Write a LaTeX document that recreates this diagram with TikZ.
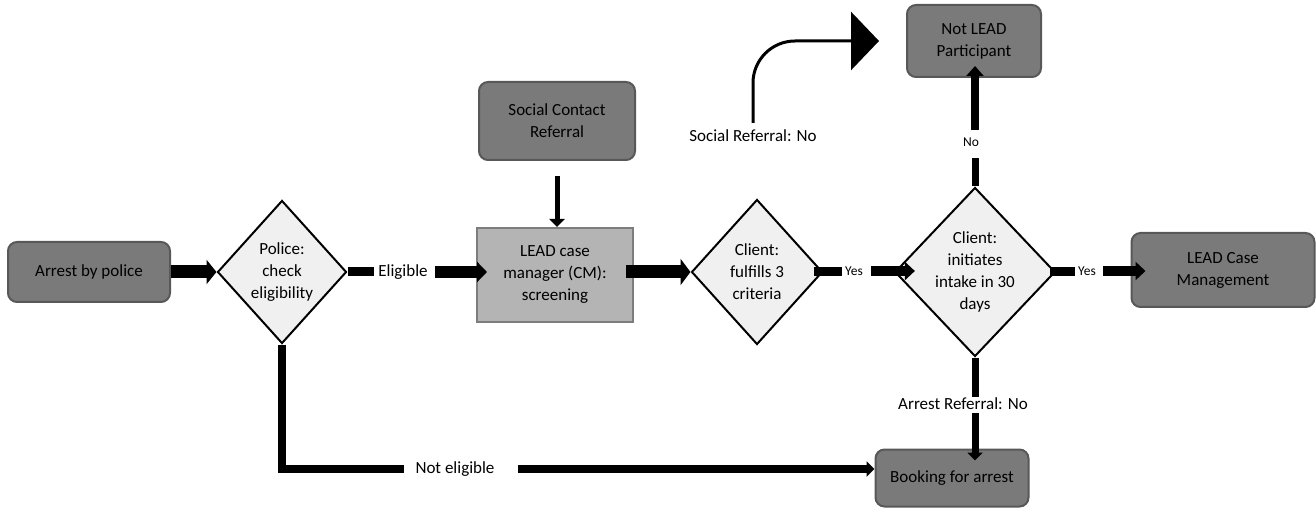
\documentclass[tikz,border=0pt]{standalone}
\usepackage{fontspec}
\setmainfont{Carlito}
\usetikzlibrary{shapes.geometric,arrows.meta}

\definecolor{boxdark}{RGB}{122,122,122}
\definecolor{boxedge}{RGB}{88,88,88}
\definecolor{boxmid}{RGB}{180,180,180}
\definecolor{boxmidedge}{RGB}{125,125,125}
\definecolor{diafill}{RGB}{240,240,240}

\begin{document}
\begin{tikzpicture}[x=1pt,y=-1pt,
	darkbox/.style={draw=boxedge,fill=boxdark,line width=2pt,rounded corners=9pt,align=center,inner sep=0pt,font=\fontsize{17}{22}\selectfont},
	midbox/.style={draw=boxmidedge,fill=boxmid,line width=2pt,align=center,inner sep=0pt,font=\fontsize{17}{22}\selectfont},
	decide/.style={diamond,draw,fill=diafill,line width=2pt,align=center,inner sep=0pt,font=\fontsize{17}{22}\selectfont},
	lab/.style={inner sep=1pt,font=\fontsize{17}{20}\selectfont},
	smalllab/.style={inner sep=1pt,font=\fontsize{13.5}{16}\selectfont},
	bar/.style={line width=8pt,line join=miter},
	fat/.style={line width=13pt,-{Triangle[width=24pt,length=10pt]}},
	mid/.style={line width=10pt,-{Triangle[width=18pt,length=10pt]}},
	slim/.style={line width=7pt,-{Triangle[width=15pt,length=8pt]}}]
	
	\useasboundingbox (0,0) rectangle (1316,510);
	
	%boxes
	\node[darkbox,minimum width=162pt,minimum height=60pt] (arrest) at (89,272) {Arrest by police};
	\node[darkbox,minimum width=156pt,minimum height=78pt] (social) at (557,121) {Social Contact\\Referral};
	\node[midbox,minimum width=156pt,minimum height=94pt] (cm) at (555,275) {LEAD case\\manager (CM):\\screening};
	\node[darkbox,minimum width=134pt,minimum height=72pt] (notlead) at (974,41) {Not LEAD\\Participant};
	\node[darkbox,minimum width=183pt,minimum height=74pt] (casemgmt) at (1223,270) {LEAD Case\\Management};
	\node[darkbox,minimum width=153pt,minimum height=57pt] (booking) at (952,478) {Booking for arrest};
	
	%diamonds
	\node[decide,minimum width=129pt,minimum height=143pt] (police) at (282,272) {Police:\\check\\eligibility};
	\node[decide,minimum width=131pt,minimum height=145pt] (crit) at (757,272) {Client:\\fulfills 3\\criteria};
	\node[decide,minimum width=160pt,minimum height=169pt] (intake) at (975,272) {Client:\\initiates\\intake in 30\\days};
	
	%labels
	\node[lab] (elig) at (403,272) {Eligible};
	\node[lab] (notelig) at (455,469) {Not eligible};
	\node[lab] (socno) at (753,136) {Social Referral: No};
	\node[lab] (arrno) at (963,404) {Arrest Referral: No};
	\node[smalllab] (yesa) at (854,271) {Yes};
	\node[smalllab] (yesb) at (1087,271) {Yes};
	\node[smalllab] (noa) at (971,142) {No};
	
	%main row
	\draw[fat] (arrest.east) -- (police.west);
	\draw[bar,line width=9pt,shorten >=3pt] (police.east) -- (police.east -| elig.west);
	\draw[fat,line width=12pt,-{Triangle[width=20pt,length=10pt]},shorten <=6pt,shorten >=-11pt] (elig.east) -- (elig.east -| cm.west);
	\draw[line width=5pt,-{Triangle[width=15pt,length=8pt]},shorten <=15pt] (social.south) -- (social.south |- cm.north);
	\draw[fat,line width=13pt,-{Triangle[width=26pt,length=10pt]},shorten <=-8pt] (cm.east |- crit.west) -- (crit.west);
	\draw[bar,line width=9pt,shorten <=-10pt,shorten >=2pt] (crit.east) -- (crit.east -| yesa.west);
	\draw[mid,shorten <=7pt,shorten >=-21pt] (yesa.east) -- (yesa.east -| intake.west);
	\draw[bar,line width=9pt,shorten <=-6pt,shorten >=2pt] (intake.east) -- (intake.east -| yesb.west);
	\draw[mid,shorten <=6pt,shorten >=-15pt] (yesb.east) -- (yesb.east -| casemgmt.west);
	
	%up and down from intake
	\draw[bar,line width=7pt,shorten >=10pt] (intake.north) -- (intake.north |- noa.south);
	\draw[slim,line width=8pt,-{Triangle[width=17pt,length=10pt]},shorten <=6pt,shorten >=-12pt] (intake.north |- noa.north) -- (intake.north |- notlead.south);
	\draw[bar,line width=7pt] (intake.south) -- (intake.south |- arrno.north);
	\draw[slim,shorten <=2pt,shorten >=-12pt] (intake.south |- arrno.south) -- (intake.south |- booking.north);
	
	%social referral curve
	\draw[line width=3pt,rounded corners=42pt,-{Triangle[width=58pt,length=28pt]},shorten <=6pt,shorten >=27pt] (socno.north) |- (notlead.west);
	
	%not eligible
	\draw[bar,shorten >=10pt] (police.south) |- (notelig.west);
	\draw[slim,line width=8pt,shorten <=22pt] (notelig.east) -- (notelig.east -| booking.west);
	
\end{tikzpicture}
\end{document}
